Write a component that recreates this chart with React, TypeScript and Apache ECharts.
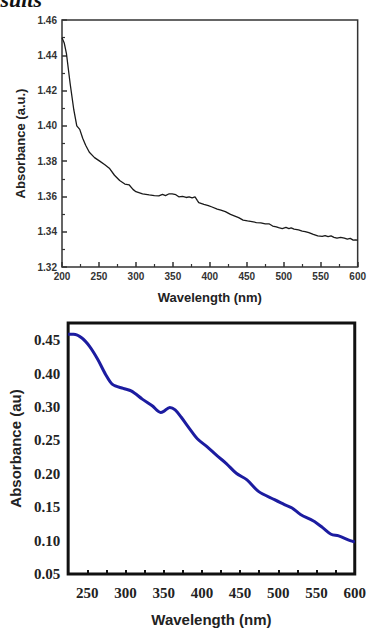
import React, { useEffect, useRef } from "react";
import * as echarts from "echarts";

// Top spectrum (black line)
const topWavelength = [200, 203, 206, 211, 216, 220, 224, 228, 232, 237, 244, 251, 258, 264, 271, 278, 285, 291, 296, 300, 309, 318, 325, 331, 336, 340, 345, 349, 354, 358, 363, 368, 372, 376, 380, 383, 385, 392, 398, 403, 410, 415, 421, 428, 433, 439, 445, 451, 457, 463, 469, 475, 480, 485, 490, 493, 498, 503, 507, 510, 514, 520, 525, 529, 534, 540, 546, 552, 556, 560, 564, 568, 572, 577, 582, 586, 590, 594, 597, 600];
const topAbsorbance = [1.45, 1.447, 1.441, 1.424, 1.409, 1.4, 1.398, 1.393, 1.389, 1.385, 1.382, 1.38, 1.378, 1.376, 1.372, 1.369, 1.367, 1.3665, 1.364, 1.3627, 1.3615, 1.3609, 1.3605, 1.3603, 1.3612, 1.3605, 1.3615, 1.3614, 1.361, 1.3598, 1.36, 1.3594, 1.3597, 1.3592, 1.3598, 1.3578, 1.3565, 1.3555, 1.3548, 1.354, 1.3528, 1.3522, 1.3514, 1.3498, 1.349, 1.348, 1.3466, 1.3461, 1.3457, 1.3452, 1.345, 1.3444, 1.3445, 1.3432, 1.3428, 1.3423, 1.3418, 1.3425, 1.3418, 1.3422, 1.3415, 1.341, 1.3403, 1.3401, 1.3395, 1.3385, 1.3376, 1.3373, 1.3378, 1.3372, 1.3376, 1.3368, 1.3363, 1.3368, 1.3363, 1.3358, 1.3362, 1.3352, 1.3354, 1.3352];

// Bottom spectrum (blue line)
const bottomWavelength = [225, 232, 243, 253, 264, 274, 283, 297, 308, 322, 335, 346, 350, 358, 365, 373, 384, 394, 407, 419, 432, 445, 459, 474, 495, 508, 518, 529, 546, 558, 569, 579, 594, 600];
const bottomAbsorbance = [0.409, 0.409, 0.4035, 0.391, 0.371, 0.349, 0.334, 0.328, 0.324, 0.312, 0.302, 0.292, 0.2936, 0.2996, 0.296, 0.2848, 0.2675, 0.2527, 0.2404, 0.228, 0.2155, 0.2009, 0.191, 0.1738, 0.1614, 0.154, 0.149, 0.1392, 0.1294, 0.1195, 0.1096, 0.1072, 0.1, 0.098];

// Bottom y-axis tick labels as printed in the figure (evenly spaced)
const bottomYTickLabels = ["0.05", "0.10", "0.15", "0.20", "0.25", "0.30", "0.40", "0.45"];

const sans = "Liberation Sans";
const serif = "Liberation Serif";

export default function App() {
  const ref = useRef<HTMLDivElement>(null);
  useEffect(() => {
    const chart = echarts.init(ref.current!, null, { renderer: "svg" });
    const topData = topWavelength.map((w, i) => [w, topAbsorbance[i]]);
    const botData = bottomWavelength.map((w, i) => [w, bottomAbsorbance[i]]);
    chart.setOption({
      animation: false,
      backgroundColor: "#ffffff",
      graphic: [
        {
          type: "text",
          left: -24,
          top: -12,
          style: {
            text: "Results",
            font: `italic bold 22px "${serif}"`,
            fill: "#111",
          },
        },
      ],
      grid: [
        { left: 62, top: 20, right: 8, height: 247, show: true, borderColor: "#333", borderWidth: 1.5, backgroundColor: "transparent" },
        { left: 66, top: 323, right: 6, bottom: 51, show: true, borderColor: "#111", borderWidth: 3, backgroundColor: "transparent" },
      ],
      xAxis: [
        {
          gridIndex: 0,
          type: "value",
          min: 200,
          max: 600,
          interval: 50,
          axisLine: { show: false },
          axisTick: { show: true, inside: true, length: 5, lineStyle: { color: "#333", width: 1.5 } },
          minorTick: { show: true, splitNumber: 2, length: 3, lineStyle: { color: "#333", width: 1.2 } },
          splitLine: { show: false },
          axisLabel: { margin: 4, fontFamily: sans, fontWeight: "bold", fontSize: 10, color: "#333", showMaxLabel: true, showMinLabel: true },
          name: "Wavelength (nm)",
          nameLocation: "middle",
          nameGap: 24,
          nameTextStyle: { fontFamily: sans, fontWeight: "bold", fontSize: 13, color: "#222" },
        },
        {
          gridIndex: 1,
          type: "value",
          min: 225,
          max: 600,
          interval: 25,
          axisLine: { show: false },
          axisTick: { show: true, inside: true, length: 4, lineStyle: { color: "#111", width: 2 } },
          splitLine: { show: false },
          axisLabel: {
            margin: 11,
            fontFamily: serif,
            fontWeight: "bold",
            fontSize: 15,
            color: "#222",
            formatter: (v: number) => (Math.round(v) % 50 === 0 ? String(Math.round(v)) : ""),
          },
          name: "Wavelength (nm)",
          nameLocation: "middle",
          nameGap: 38,
          nameTextStyle: { fontFamily: sans, fontWeight: "bold", fontSize: 15, color: "#222" },
        },
      ],
      yAxis: [
        {
          gridIndex: 0,
          type: "value",
          min: 1.32,
          max: 1.46,
          interval: 0.02,
          axisLine: { show: false },
          axisTick: { show: true, inside: true, length: 5, lineStyle: { color: "#333", width: 1.5 } },
          minorTick: { show: true, splitNumber: 2, length: 3, lineStyle: { color: "#333", width: 1.2 } },
          splitLine: { show: false },
          axisLabel: { margin: 5, fontFamily: sans, fontWeight: "bold", fontSize: 10, color: "#333", formatter: (v: number) => v.toFixed(2) },
          name: "Absorbance (a.u.)",
          nameLocation: "middle",
          nameGap: 34,
          nameTextStyle: { fontFamily: sans, fontWeight: "bold", fontSize: 13, color: "#222" },
        },
        {
          gridIndex: 1,
          type: "value",
          min: 0.05,
          max: 0.426,
          interval: 0.05,
          axisLine: { show: false },
          axisTick: { show: false },
          splitLine: { show: false },
          axisLabel: {
            margin: 8,
            fontFamily: serif,
            fontWeight: "bold",
            fontSize: 15,
            color: "#222",
            showMaxLabel: false,
            formatter: (v: number) => {
              const i = Math.round((v - 0.05) / 0.05);
              if (Math.abs(v - (0.05 + i * 0.05)) > 0.001) return "";
              return bottomYTickLabels[i] ?? "";
            },
          },
          name: "Absorbance (au)",
          nameLocation: "middle",
          nameGap: 43,
          nameTextStyle: { fontFamily: sans, fontWeight: "bold", fontSize: 15, color: "#222" },
        },
      ],
      series: [
        {
          type: "line",
          xAxisIndex: 0,
          yAxisIndex: 0,
          data: topData,
          showSymbol: false,
          lineStyle: { color: "#1a1a1a", width: 1.3 },
        },
        {
          type: "line",
          xAxisIndex: 1,
          yAxisIndex: 1,
          data: botData,
          showSymbol: false,
          smooth: 0.3,
          lineStyle: { color: "#1c1ca0", width: 3 },
        },
      ],
    });
    return () => chart.dispose();
  }, []);
  return <div ref={ref} style={{ position: "fixed", left: 0, top: 0, width: 369, height: 628 }} />;
}
